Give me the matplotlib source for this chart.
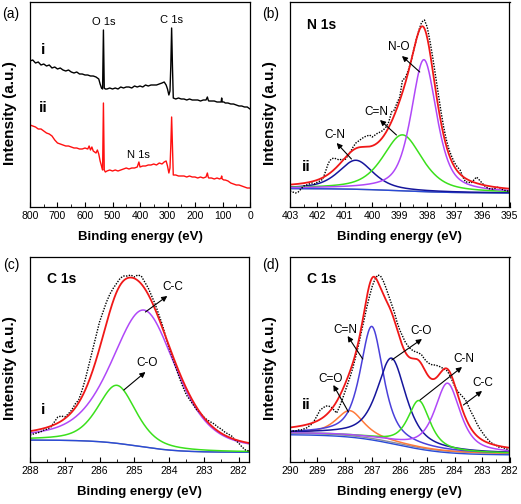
import matplotlib
matplotlib.use('Agg')
import matplotlib.pyplot as plt
import numpy as np
from matplotlib.ticker import MultipleLocator

plt.rcParams['font.family'] = ['Liberation Sans', 'DejaVu Sans']

# ---------------- (a) survey spectra ----------------
survey_i_ev = [800, 790, 780, 770, 760, 750, 740, 730, 720, 710, 700, 690, 680, 670, 660, 650, 640, 630,
               620, 610, 600, 590, 580, 570, 560, 550, 545, 540, 536, 533, 530, 526, 520, 510, 500, 490,
               480, 470, 460, 450, 440, 430, 420, 410, 400, 390, 380, 370, 360, 350, 340, 330, 320, 312,
               305, 300, 295, 291, 288, 285, 282, 279, 270, 260, 250, 240, 230, 220, 210, 200, 190, 180,
               170, 160, 155, 152, 150, 140, 130, 120, 110, 105, 103, 101, 95, 90, 80, 70, 60, 50, 40,
               30, 20, 10, 0]
survey_i = [145, 146, 143, 144, 141, 142, 140, 141, 138, 139, 137, 138, 136, 135, 136, 134, 133, 134,
            132, 132, 131, 131, 130, 130, 129, 127, 122, 118, 117, 176, 118, 117, 117, 118, 117, 118,
            117, 119, 118, 119, 119, 118, 120, 119, 120, 119, 121, 120, 121, 121, 121, 122, 123, 124,
            121, 117, 111, 115, 140, 178, 140, 108, 107, 108, 107, 107, 106, 107, 106, 106, 106, 105,
            106, 106, 109, 106, 105, 105, 105, 104, 104, 104, 108, 104, 104, 103, 103, 102, 102, 101, 100,
            100, 99, 99, 97]

survey_ii_ev = [800, 790, 780, 770, 760, 750, 740, 730, 720, 710, 700, 690, 680, 670, 660, 650, 640, 630,
                620, 610, 600, 590, 585, 580, 575, 570, 560, 555, 550, 545, 540, 536, 533, 530, 526, 520,
                510, 500, 490, 480, 470, 460, 450, 440, 430, 420, 410, 404, 400, 390, 380, 370, 360, 350,
                340, 330, 320, 312, 305, 300, 295, 291, 288, 285, 282, 279, 270, 260, 250, 240, 230, 220,
                210, 200, 190, 180, 170, 160, 155, 152, 150, 140, 130, 120, 110, 105, 103, 101, 95, 90,
                80, 70, 60, 50, 40, 30, 20, 10, 0]
survey_ii = [81, 80, 79, 77, 77, 75, 73, 72, 70, 66, 63, 62, 61, 60, 60, 59, 58, 58,
             57, 57, 58, 57, 60, 56, 59, 55, 53, 56, 52, 45, 40, 36, 103, 36, 34, 35,
             36, 35, 36, 35, 36, 37, 38, 37, 38, 38, 39, 44, 39, 40, 40, 41, 41, 42,
             41, 43, 42, 44, 45, 40, 33, 38, 60, 89, 60, 31, 31, 30, 30, 30, 29, 30,
             29, 29, 28, 29, 28, 29, 33, 29, 28, 28, 27, 28, 27, 28, 30, 27, 26, 26,
             25, 23, 22, 21, 21, 20, 19, 18, 18]

# ---------------- (b) N 1s, sample ii ----------------
n1s_ev = [403.0, 402.9, 402.8, 402.7, 402.6, 402.5, 402.4, 402.3, 402.2, 402.1, 402.0, 401.9, 401.8,
          401.7, 401.6, 401.5, 401.4, 401.3, 401.2, 401.1, 401.0, 400.9, 400.8, 400.7, 400.6, 400.5,
          400.4, 400.3, 400.2, 400.1, 400.0, 399.9, 399.8, 399.7, 399.6, 399.5, 399.4, 399.3, 399.2,
          399.1, 399.0, 398.9, 398.8, 398.7, 398.6, 398.5, 398.4, 398.3, 398.2, 398.1, 398.0, 397.9,
          397.8, 397.7, 397.6, 397.5, 397.4, 397.3, 397.2, 397.1, 397.0, 396.9, 396.8, 396.7, 396.6,
          396.5, 396.4, 396.3, 396.2, 396.1, 396.0, 395.9, 395.8, 395.7, 395.6, 395.5, 395.4, 395.3,
          395.2, 395.1, 395.0]
n1s_raw = [16, 15, 14, 15, 18, 21, 22, 23, 24, 23, 25, 26, 28,
           36, 44, 48, 49, 48, 47, 48, 47, 51, 55, 60, 64, 66,
           68, 70, 71, 72, 70, 72, 74, 75, 77, 80, 85, 95, 97,
           104, 110, 127, 129, 136, 144, 156, 167, 177, 185, 187, 180, 166,
           150, 132, 114, 96, 80, 67, 57, 50, 44, 40, 37, 30, 25,
           25, 24, 27, 30, 27, 24, 21, 19, 18, 18, 19, 20, 18,
           17, 16, 16]
n1s_names = ['C-N', 'C=N', 'N-O']
n1s_center = [400.6, 398.9, 398.12]
n1s_height = [29, 56, 132]
n1s_fwhm = [1.5, 1.7, 1.1]
n1s_bg = [18.5, 14.0, 399.0, 1.0]   # high side, low side, step centre, step width

# ---------------- (c) C 1s, sample i ----------------
c1s_i_ev = [288.0, 287.9, 287.8, 287.7, 287.6, 287.5, 287.4, 287.3, 287.2, 287.1, 287.0, 286.9, 286.8,
            286.7, 286.6, 286.5, 286.4, 286.3, 286.2, 286.1, 286.0, 285.9, 285.8, 285.7, 285.6, 285.5,
            285.4, 285.3, 285.2, 285.1, 285.0, 284.9, 284.8, 284.7, 284.6, 284.5, 284.4, 284.3, 284.2,
            284.1, 284.0, 283.9, 283.8, 283.7, 283.6, 283.5, 283.4, 283.3, 283.2, 283.1, 283.0, 282.9,
            282.8, 282.7, 282.6, 282.5, 282.4, 282.3, 282.2, 282.1, 282.0, 281.9, 281.8, 281.7]
c1s_i_raw = [27, 28, 29, 30, 32, 33, 35, 40, 45, 46, 45, 48, 52,
             58, 62, 72, 84, 98, 112, 126, 140, 150, 160, 168, 174, 179,
             184, 186, 186, 187, 185, 187, 186, 180, 174, 166, 158, 148, 138,
             126, 114, 104, 94, 84, 75, 67, 62, 57, 52, 49, 45, 42,
             40, 38, 35, 33, 30, 28, 26, 22, 19, 15, 12, 11]
c1s_i_names = ['C-O', 'C-C']
c1s_i_center = [285.5, 284.72]
c1s_i_height = [58, 137]
c1s_i_fwhm = [1.3, 2.2]
c1s_i_bg = [22.0, 9.7, 284.9, 0.6]

# ---------------- (d) C 1s, sample ii ----------------
c1s_ii_ev = [290.0, 289.9, 289.8, 289.7, 289.6, 289.5, 289.4, 289.3, 289.2, 289.1, 289.0, 288.9, 288.8,
             288.7, 288.6, 288.5, 288.4, 288.3, 288.2, 288.1, 288.0, 287.9, 287.8, 287.7, 287.6, 287.5,
             287.4, 287.3, 287.2, 287.1, 287.0, 286.9, 286.8, 286.7, 286.6, 286.5, 286.4, 286.3, 286.2,
             286.1, 286.0, 285.9, 285.8, 285.7, 285.6, 285.5, 285.4, 285.3, 285.2, 285.1, 285.0, 284.9,
             284.8, 284.7, 284.6, 284.5, 284.4, 284.3, 284.2, 284.1, 284.0, 283.9, 283.8, 283.7, 283.6,
             283.5, 283.4, 283.3, 283.2, 283.1, 283.0, 282.9, 282.8, 282.7, 282.6, 282.5, 282.4, 282.3,
             282.2, 282.1, 282.0]
c1s_ii_raw = [30, 31, 31, 32, 32, 33, 34, 36, 38, 42, 47, 52, 54,
              56, 56, 55, 52, 49, 55, 62, 70, 78, 86, 95, 106, 117,
              130, 142, 155, 166, 176, 183, 187, 186, 181, 174, 166, 158, 150,
              140, 132, 126, 120, 116, 113, 111, 110, 109, 107, 103, 100, 98,
              97, 97, 96, 95, 93, 92, 88, 82, 76, 71, 68, 65, 62,
              56, 50, 45, 39, 34, 30, 26, 23, 20, 18, 17, 15, 15,
              14, 13, 12]
c1s_ii_names = ['C=O', 'C=N', 'C-O', 'C-N', 'C-C']
c1s_ii_center = [287.82, 287.02, 286.3, 285.3, 284.26]
c1s_ii_height = [25, 112, 84, 47, 68]
c1s_ii_fwhm = [1.2, 1.0, 1.25, 0.95, 1.1]
c1s_ii_bg = [29.0, 8.5, 286.1, 0.9]

RED = '#f01818'
PURPLE = '#b048f8'
GREEN = '#3be01c'
NAVY = '#16169c'
SLATE = '#4a40da'
ORANGE = '#ff7a3a'
BGBLUE = '#2a4bd7'
BGGRAY = '#8c8c9c'


def voigt(x, c, h, w, eta=0.6):
    u = (x - c) / w
    return h * (eta / (1 + 4 * u ** 2) + (1 - eta) * np.exp(-4 * np.log(2) * u ** 2))


def background(x, p):
    hi, lo, c, s = p
    return lo + (hi - lo) / (1 + np.exp(-(x - c) / s))


def style_axis(ax, xlim, major, minor):
    ax.set_xlim(*xlim)
    ax.set_ylim(0, 205)
    ax.set_yticks([])
    ax.xaxis.set_major_locator(MultipleLocator(major))
    ax.xaxis.set_minor_locator(MultipleLocator(minor))
    ax.tick_params(axis='x', which='major', direction='in', length=3.5, width=0.8, labelsize=7.5, pad=3)
    ax.tick_params(axis='x', which='minor', direction='in', length=2, width=0.6)
    for s in ax.spines.values():
        s.set_linewidth(0.9)
    ax.set_xlabel('Binding energy (eV)', fontsize=9.5, fontweight='bold')
    ax.set_ylabel('Intensity (a.u.)', fontsize=11, fontweight='bold')
    ax.xaxis.set_label_coords(0.5, -0.115)
    ax.yaxis.set_label_coords(-0.06, 0.46)


def arrow(ax, tail, head):
    ax.annotate('', xy=head, xytext=tail,
                arrowprops=dict(arrowstyle='-|>', color='k', lw=0.8, mutation_scale=8,
                                shrinkA=0, shrinkB=0))


W, H = 521, 504
fig = plt.figure(figsize=(W / 100, H / 100), dpi=100)


def box(l, t, r, b):
    return [l / W, 1 - b / H, (r - l) / W, (b - t) / H]


ax_a = fig.add_axes(box(30, 2, 250, 207))
ax_b = fig.add_axes(box(290, 2, 509.5, 207))
ax_c = fig.add_axes(box(30, 257, 249, 462))
ax_d = fig.add_axes(box(290, 257, 509.5, 462))

# (a)
ax_a.plot(survey_i_ev, survey_i, color='k', lw=1.0)
ax_a.plot(survey_ii_ev, survey_ii, color='#ff1010', lw=1.0)
style_axis(ax_a, (800, 0), 100, 50)
ax_a.set_ylim(-1, 204)
ax_a.text(531, 184, 'O 1s', fontsize=8, ha='center', va='center')
ax_a.text(284, 186, 'C 1s', fontsize=8, ha='center', va='center')
ax_a.text(407, 51, 'N 1s', fontsize=8, ha='center', va='center')
ax_a.text(753, 156, 'i', fontsize=11, fontweight='bold', ha='center', va='center')
ax_a.text(753, 98, 'ii', fontsize=11, fontweight='bold', ha='center', va='center')

# (b)
xb = np.linspace(403, 395, 500)
bg_b = background(xb, n1s_bg)
env_b = bg_b.copy()
ax_b.plot(xb, bg_b, color=BGGRAY, lw=1.0)
ax_b.plot(xb, bg_b, color=BGBLUE, lw=1.0)
for c, h, w, col in zip(n1s_center, n1s_height, n1s_fwhm, [NAVY, GREEN, PURPLE]):
    comp = voigt(xb, c, h, w)
    env_b += comp
    ax_b.plot(xb, bg_b + comp, color=col, lw=1.1)
ax_b.plot(n1s_ev, n1s_raw, color='k', lw=1.0, ls=(0, (1, 1)))
ax_b.plot(xb, env_b, color=RED, lw=1.3)
style_axis(ax_b, (403, 395), 1, 0.5)
ax_b.text(401.85, 182, 'N 1s', fontsize=10, fontweight='bold', ha='center', va='center')
ax_b.text(399.04, 160, 'N-O', fontsize=8.5, ha='center', va='center')
ax_b.text(399.87, 95, 'C=N', fontsize=8.5, ha='center', va='center')
ax_b.text(401.36, 72, 'C-N', fontsize=8.5, ha='center', va='center')
ax_b.text(402.4, 40, 'ii', fontsize=11, fontweight='bold', ha='center', va='center')
arrow(ax_b, (398.27, 135), (398.92, 151))
arrow(ax_b, (399.12, 72), (399.72, 87))
arrow(ax_b, (400.76, 48), (401.3, 64))

# (c)
xc = np.linspace(288, 281.7, 500)
bg_c = background(xc, c1s_i_bg)
env_c = bg_c.copy()
ax_c.plot(xc, bg_c, color=BGGRAY, lw=1.0)
ax_c.plot(xc, bg_c, color=BGBLUE, lw=1.0)
for c, h, w, col in zip(c1s_i_center, c1s_i_height, c1s_i_fwhm, [GREEN, PURPLE]):
    comp = voigt(xc, c, h, w, 0.5)
    env_c += comp
    ax_c.plot(xc, bg_c + comp, color=col, lw=1.1)
ax_c.plot(c1s_i_ev, c1s_i_raw, color='k', lw=1.0, ls=(0, (1, 1)))
ax_c.plot(xc, env_c, color=RED, lw=1.3)
style_axis(ax_c, (288, 281.7), 1, 0.5)
ax_c.text(287.08, 183, 'C 1s', fontsize=10, fontweight='bold', ha='center', va='center')
ax_c.text(283.9, 175, 'C-C', fontsize=8.5, ha='center', va='center')
ax_c.text(284.63, 99, 'C-O', fontsize=8.5, ha='center', va='center')
ax_c.text(287.62, 52, 'i', fontsize=11, fontweight='bold', ha='center', va='center')
arrow(ax_c, (284.68, 150), (284.05, 166))
arrow(ax_c, (285.3, 72), (284.68, 90))

# (d)
xd = np.linspace(290, 282, 500)
bg_d = background(xd, c1s_ii_bg)
env_d = bg_d.copy()
ax_d.plot(xd, bg_d, color=BGGRAY, lw=1.0)
ax_d.plot(xd, bg_d - 1.5, color=BGBLUE, lw=1.0)
for c, h, w, col in zip(c1s_ii_center, c1s_ii_height, c1s_ii_fwhm, [ORANGE, SLATE, NAVY, GREEN, PURPLE]):
    comp = voigt(xd, c, h, w, 0.7)
    env_d += comp
    ax_d.plot(xd, bg_d + comp, color=col, lw=1.1)
ax_d.plot(c1s_ii_ev, c1s_ii_raw, color='k', lw=1.0, ls=(0, (1, 1)))
ax_d.plot(xd, env_d, color=RED, lw=1.3)
style_axis(ax_d, (290, 282), 1, 0.5)
ax_d.text(288.84, 183, 'C 1s', fontsize=10, fontweight='bold', ha='center', va='center')
ax_d.text(287.99, 132, 'C=N', fontsize=8.5, ha='center', va='center')
ax_d.text(285.23, 131, 'C-O', fontsize=8.5, ha='center', va='center')
ax_d.text(283.67, 103, 'C-N', fontsize=8.5, ha='center', va='center')
ax_d.text(282.97, 79, 'C-C', fontsize=8.5, ha='center', va='center')
ax_d.text(288.52, 83, 'C=O', fontsize=8.5, ha='center', va='center')
ax_d.text(289.39, 57, 'ii', fontsize=11, fontweight='bold', ha='center', va='center')
arrow(ax_d, (287.35, 103), (287.9, 126))
arrow(ax_d, (286.29, 102), (285.19, 123))
arrow(ax_d, (285.26, 62), (283.73, 95))
arrow(ax_d, (283.68, 57), (283.0, 71))
arrow(ax_d, (287.87, 50), (288.42, 77))

for lab, (px, py) in zip(['(a)', '(b)', '(c)', '(d)'], [(11, 14), (271, 14), (11, 265), (271, 265)]):
    fig.text(px / W, 1 - py / H, lab, fontsize=10, ha='center', va='center')

fig.savefig('out.png', dpi=100)
